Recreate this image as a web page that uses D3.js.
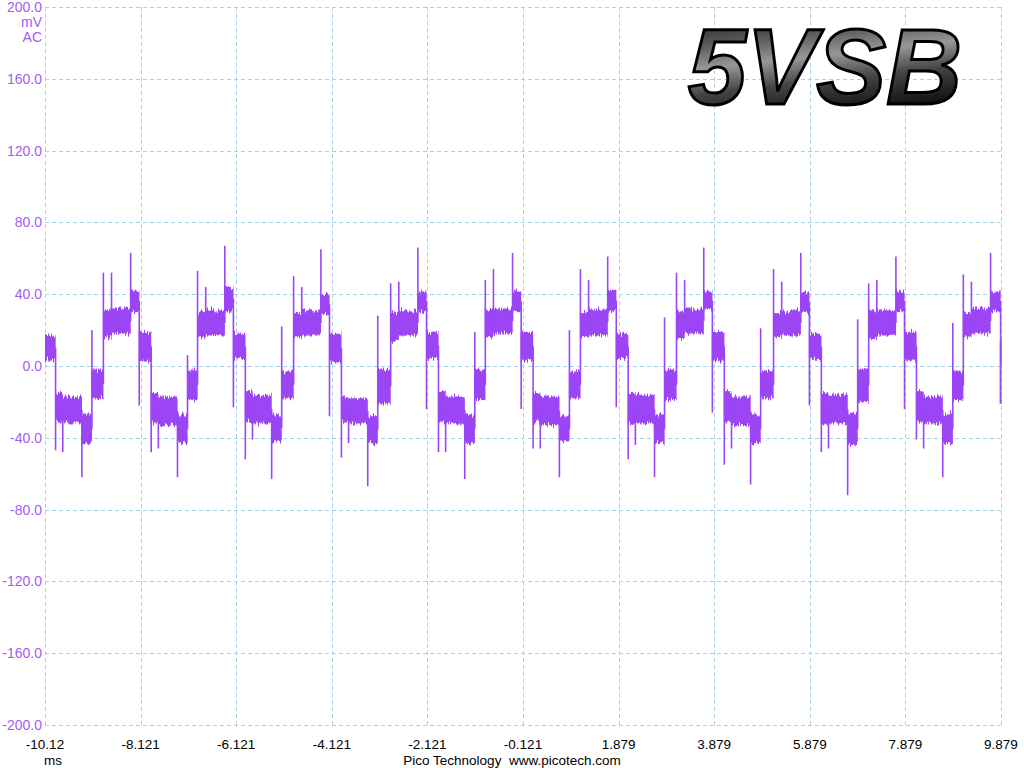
<!DOCTYPE html>
<html>
<head>
<meta charset="utf-8">
<script src="https://cdn.jsdelivr.net/npm/d3@7"></script>
<style>
  body { margin: 0; background: #ffffff; }
  svg { display: block; }
</style>
</head>
<body>
<script>
// time axis (ms) and amplitude axis (mV)
const xTicks = [-10.121, -8.121, -6.121, -4.121, -2.121, -0.121, 1.879, 3.879, 5.879, 7.879, 9.879];
const xTickLabels = ["-10.12", "-8.121", "-6.121", "-4.121", "-2.121", "-0.121", "1.879", "3.879", "5.879", "7.879", "9.879"];
const yTicks = [200, 160, 120, 80, 40, 0, -40, -80, -120, -160, -200];
const yTickLabels = ["200.0", "160.0", "120.0", "80.0", "40.0", "0.0", "-40.0", "-80.0", "-120.0", "-160.0", "-200.0"];

// waveform: each segment starts at segT (ms), noise band segLo..segHi (mV),
// with a switching spike at its start reaching segSpike (mV)
const segT = [
  -10.121, -9.91, -9.76, -9.36, -9.15,
  -8.91, -8.74, -8.34, -8.16, -7.91, -7.76, -7.36, -7.15,
  -6.94, -6.77, -6.37, -6.19, -5.94, -5.79, -5.39, -5.18,
  -4.93, -4.76, -4.36, -4.18, -3.93, -3.78, -3.38, -3.17,
  -2.90, -2.73, -2.33, -2.15, -1.90, -1.75, -1.35, -1.14,
  -0.92, -0.75, -0.35, -0.17, 0.08, 0.23, 0.63, 0.84,
  1.07, 1.24, 1.64, 1.82, 2.07, 2.22, 2.62, 2.83,
  3.08, 3.25, 3.65, 3.83, 4.08, 4.23, 4.63, 4.84,
  5.11, 5.28, 5.68, 5.86, 6.11, 6.26, 6.66, 6.87,
  7.10, 7.27, 7.67, 7.85, 8.10, 8.25, 8.65, 8.86,
  9.08, 9.25, 9.65, 9.86
];
const segLo = [
  3, -31, -32, -43, -18,
  16, 18, 30, 3, -32, -33, -43, -19,
  16, 17, 31, 4, -31, -32, -42, -18,
  16, 17, 29, 2, -31, -32, -43, -21,
  14, 17, 31, 4, -32, -32, -43, -19,
  16, 18, 30, 3, -31, -33, -42, -18,
  16, 17, 30, 4, -32, -32, -43, -19,
  15, 18, 31, 3, -31, -33, -43, -18,
  16, 17, 30, 4, -32, -32, -44, -20,
  15, 17, 30, 3, -31, -32, -43, -19,
  16, 18, 31, 2
];
const segHi = [
  17, -15, -17, -27, -2,
  31, 32, 42, 19, -15, -17, -27, -2,
  30, 31, 44, 18, -14, -16, -27, -3,
  29, 31, 40, 18, -17, -18, -28, -2,
  30, 31, 41, 19, -13, -17, -27, -2,
  31, 32, 42, 19, -15, -17, -28, -3,
  30, 32, 43, 18, -15, -16, -27, -2,
  31, 32, 42, 19, -14, -17, -27, -3,
  30, 31, 41, 18, -15, -16, -26, -2,
  31, 31, 42, 19, -14, -17, -27, -3,
  30, 32, 41, 14
];
const segSpike = [
  null, -47, -48, -62, 20,
  52, 52, 63, -22, -48, -46, -62, 6,
  53, 44, 67, -23, -52, -41, -63, 22,
  50, 44, 65, -28, -51, -43, -67, 28,
  46, 47, 66, -24, -48, -48, -63, 19,
  48, 54, 63, -24, -46, -46, -62, 20,
  54, 48, 61, -23, -52, -44, -62, 27,
  52, 48, 66, -26, -55, -46, -66, 21,
  54, 47, 63, -22, -48, -46, -72, 26,
  46, 48, 61, -24, -41, -46, -62, 24,
  51, 47, 63, -21
];
const tEnd = 9.879;

const W = 1024, H = 768;
const plotL = 45, plotR = 1001, plotT = 7, plotB = 725;

const svg = d3.select("body").append("svg")
  .attr("width", W)
  .attr("height", H);

const x = d3.scaleLinear().domain([-10.121, 9.879]).range([plotL, plotR]);
const y = d3.scaleLinear().domain([-200, 200]).range([plotB, plotT]);

const defs = svg.append("defs");

// jagged noise on the band edges
const noise = defs.append("filter")
  .attr("id", "noise")
  .attr("x", "-2%").attr("y", "-40%")
  .attr("width", "104%").attr("height", "180%");
noise.append("feTurbulence")
  .attr("type", "fractalNoise")
  .attr("baseFrequency", "0.7 0.03")
  .attr("numOctaves", 2)
  .attr("seed", 7)
  .attr("result", "turb");
noise.append("feColorMatrix")
  .attr("in", "turb")
  .attr("type", "matrix")
  .attr("values", "1 0 0 0 0  0 0 0 0 0.5  0 0 0 0 0  0 0 0 0 1")
  .attr("result", "map");
noise.append("feDisplacementMap")
  .attr("in", "SourceGraphic")
  .attr("in2", "map")
  .attr("scale", 11)
  .attr("xChannelSelector", "G")
  .attr("yChannelSelector", "R");

const metal = defs.append("linearGradient")
  .attr("id", "metal")
  .attr("x1", 0).attr("y1", 0).attr("x2", 0.25).attr("y2", 1);
[["0%", "#111"], ["30%", "#555"], ["50%", "#979797"], ["70%", "#444"], ["100%", "#0a0a0a"]]
  .forEach(s => metal.append("stop").attr("offset", s[0]).attr("stop-color", s[1]));

// grid
const gridColor = "#a6d3e6";
svg.append("g").selectAll("line")
  .data(yTicks)
  .enter().append("line")
  .attr("x1", plotL).attr("x2", plotR)
  .attr("y1", d => Math.round(y(d)) + 0.5)
  .attr("y2", d => Math.round(y(d)) + 0.5)
  .attr("stroke", gridColor)
  .attr("stroke-dasharray", "4,3");

svg.append("g").selectAll("line")
  .data(xTicks)
  .enter().append("line")
  .attr("x1", d => Math.round(x(d)) + 0.5)
  .attr("x2", d => Math.round(x(d)) + 0.5)
  .attr("y1", plotT).attr("y2", plotB)
  .attr("stroke", gridColor)
  .attr("stroke-dasharray", "4,3");

// title
svg.append("text")
  .attr("x", 688)
  .attr("y", 104)
  .attr("font-family", "Liberation Sans, Arial, sans-serif")
  .attr("font-weight", "bold")
  .attr("font-style", "italic")
  .attr("font-size", 108)
  .attr("textLength", 274)
  .attr("lengthAdjust", "spacingAndGlyphs")
  .attr("fill", "url(#metal)")
  .attr("stroke", "#000")
  .attr("stroke-width", 3)
  .text("5VSB");

// waveform
const trace = "#9b45f5";
const segs = segT.map((t, i) => ({
  t0: t,
  t1: i < segT.length - 1 ? segT[i + 1] : tEnd,
  lo: segLo[i],
  hi: segHi[i],
  spike: segSpike[i],
  prevMid: i > 0 ? (segLo[i - 1] + segHi[i - 1]) / 2 : null
}));

const wave = svg.append("g");

wave.append("g")
  .attr("filter", "url(#noise)")
  .selectAll("rect")
  .data(segs)
  .enter().append("rect")
  .attr("x", d => x(d.t0))
  .attr("width", d => x(d.t1) - x(d.t0) + 0.6)
  .attr("y", d => y(d.hi))
  .attr("height", d => y(d.lo) - y(d.hi))
  .attr("fill", trace);

wave.append("g").selectAll("line")
  .data(segs.filter(d => d.spike !== null))
  .enter().append("line")
  .attr("x1", d => x(d.t0) + 0.5)
  .attr("x2", d => x(d.t0) + 0.5)
  .attr("y1", d => y(Math.max(d.spike, d.prevMid, (d.lo + d.hi) / 2)))
  .attr("y2", d => y(Math.min(d.spike, d.prevMid, (d.lo + d.hi) / 2)))
  .attr("stroke", trace)
  .attr("stroke-width", 1.6);

// end of trace drops at the right edge
wave.append("line")
  .attr("x1", x(tEnd) - 0.5).attr("x2", x(tEnd) - 0.5)
  .attr("y1", y(segHi[segHi.length - 1])).attr("y2", y(-21))
  .attr("stroke", trace)
  .attr("stroke-width", 1.4);

// y axis labels
const labelFont = "Liberation Sans, Arial, sans-serif";
svg.append("g").selectAll("text")
  .data(yTicks)
  .enter().append("text")
  .attr("x", 42)
  .attr("y", d => y(d) + 5)
  .attr("text-anchor", "end")
  .attr("font-family", labelFont)
  .attr("font-size", "14px")
  .attr("fill", "#a45cf0")
  .text((d, i) => yTickLabels[i]);

svg.append("text")
  .attr("x", 42).attr("y", 27)
  .attr("text-anchor", "end")
  .attr("font-family", labelFont)
  .attr("font-size", "14px")
  .attr("fill", "#a45cf0")
  .text("mV");

svg.append("text")
  .attr("x", 42).attr("y", 42)
  .attr("text-anchor", "end")
  .attr("font-family", labelFont)
  .attr("font-size", "14px")
  .attr("fill", "#a45cf0")
  .text("AC");

// x axis labels
svg.append("g").selectAll("text")
  .data(xTicks)
  .enter().append("text")
  .attr("x", d => x(d))
  .attr("y", 749)
  .attr("text-anchor", "middle")
  .attr("font-family", labelFont)
  .attr("font-size", "13.5px")
  .attr("fill", "#000")
  .text((d, i) => xTickLabels[i]);

svg.append("text")
  .attr("x", 53).attr("y", 765)
  .attr("text-anchor", "middle")
  .attr("font-family", labelFont)
  .attr("font-size", "13.5px")
  .attr("fill", "#000")
  .text("ms");

svg.append("text")
  .attr("x", 512).attr("y", 765)
  .attr("text-anchor", "middle")
  .attr("font-family", labelFont)
  .attr("font-size", "13.5px")
  .attr("fill", "#000")
  .attr("xml:space", "preserve")
  .style("white-space", "pre")
  .text("Pico Technology  www.picotech.com");
</script>
</body>
</html>
